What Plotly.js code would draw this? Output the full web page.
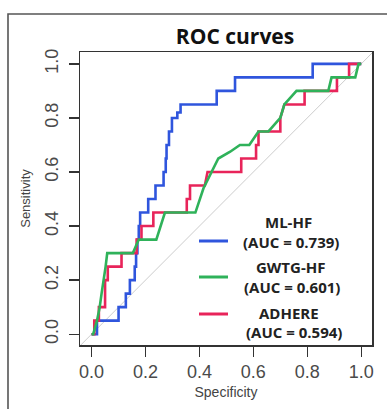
<!DOCTYPE html>
<html>
<head>
<meta charset="utf-8">
<script src="https://cdn.plot.ly/plotly-3.0.1.min.js"></script>
<style>html,body{margin:0;padding:0;background:#fff;overflow:hidden;}#chart{width:387px;height:409px;}</style>
</head>
<body>
<div id="chart"></div>
<script>
// ---- data (x = 1 - specificity as drawn, y = sensitivity) ----
const mlhfX = [0,0.02,0.02,0.10,0.10,0.127,0.127,0.142,0.142,0.16,0.16,0.165,0.165,0.17,0.17,0.175,0.175,0.18,0.18,0.21,0.21,0.237,0.237,0.267,0.267,0.275,0.275,0.278,0.278,0.287,0.287,0.298,0.298,0.318,0.318,0.33,0.33,0.464,0.464,0.532,0.532,0.82,0.82,1.0];
const mlhfY = [0,0,0.05,0.05,0.10,0.10,0.15,0.15,0.20,0.20,0.25,0.25,0.30,0.30,0.35,0.35,0.40,0.40,0.45,0.45,0.50,0.50,0.55,0.55,0.60,0.60,0.65,0.65,0.70,0.70,0.75,0.75,0.80,0.80,0.82,0.82,0.85,0.85,0.90,0.90,0.95,0.95,1.0,1.0];

const gwtgX = [0,0.006,0.02,0.03,0.037,0.045,0.052,0.058,0.153,0.175,0.24,0.272,0.385,0.415,0.446,0.47,0.514,0.55,0.585,0.605,0.619,0.656,0.70,0.715,0.76,0.878,0.89,0.978,0.99,1.0];
const gwtgY = [0,0,0.05,0.10,0.15,0.20,0.25,0.30,0.30,0.35,0.35,0.45,0.45,0.54,0.60,0.65,0.675,0.70,0.70,0.73,0.75,0.75,0.80,0.85,0.90,0.90,0.95,0.95,1.0,1.0];

const adhereX = [0,0.01,0.01,0.027,0.027,0.05,0.05,0.06,0.06,0.111,0.111,0.167,0.167,0.185,0.185,0.229,0.229,0.353,0.353,0.365,0.365,0.42,0.43,0.555,0.555,0.61,0.61,0.619,0.619,0.70,0.70,0.715,0.79,0.79,0.91,0.91,0.955,0.955,1.0];
const adhereY = [0,0,0.05,0.05,0.10,0.10,0.20,0.20,0.25,0.25,0.30,0.30,0.35,0.35,0.40,0.40,0.45,0.45,0.50,0.50,0.55,0.55,0.60,0.60,0.65,0.65,0.70,0.70,0.75,0.75,0.80,0.85,0.85,0.90,0.90,0.95,0.95,1.0,1.0];

const diagonal = [-0.1, 1.1];
const tickVals = [0, 0.2, 0.4, 0.6, 0.8, 1.0];
const tickText = ["0.0", "0.2", "0.4", "0.6", "0.8", "1.0"];
const seriesNames = ["ML-HF", "GWTG-HF", "ADHERE"];
const aucLabels = ["(AUC = 0.739)", "(AUC = 0.601)", "(AUC = 0.594)"];
const colors = ["#2f55dd", "#2fb25a", "#e8245a"];

// ---- geometry helpers (pixel -> paper) ----
const W = 387, H = 409;
const L = 80, R = 372, T = 52, B = 345;
const px = x => (x - L) / (R - L);
const py = y => (B - y) / (B - T);

const traces = [
  {x: diagonal, y: diagonal, mode: 'lines', line: {color: '#cccccc', width: 1}, hoverinfo: 'skip', showlegend: false},
  {x: mlhfX, y: mlhfY, mode: 'lines', name: seriesNames[0], line: {color: colors[0], width: 2.6}, showlegend: false},
  {x: adhereX, y: adhereY, mode: 'lines', name: seriesNames[2], line: {color: colors[2], width: 2.6}, showlegend: false},
  {x: gwtgX, y: gwtgY, mode: 'lines', name: seriesNames[1], line: {color: colors[1], width: 2.6}, showlegend: false}
];

const legendFont = {family: 'Open Sans, sans-serif', size: 15, color: '#222', weight: 'bold'};
const legendRows = [
  {name: [288, 222], auc: [291, 242], line: 241},
  {name: [290, 267], auc: [292, 287], line: 277},
  {name: [289, 313], auc: [294, 332], line: 314}
];
const annotations = [];
const shapes = [];
legendRows.forEach((r, i) => {
  annotations.push({xref: 'paper', yref: 'paper', x: px(r.name[0]), y: py(r.name[1]), text: '<b>' + seriesNames[i] + '</b>', showarrow: false, xanchor: 'center', yanchor: 'middle', font: legendFont});
  annotations.push({xref: 'paper', yref: 'paper', x: px(r.auc[0]), y: py(r.auc[1]), text: '<b>' + aucLabels[i] + '</b>', showarrow: false, xanchor: 'center', yanchor: 'middle', font: legendFont});
  shapes.push({type: 'line', xref: 'paper', yref: 'paper', x0: px(199), x1: px(228), y0: py(r.line), y1: py(r.line), line: {color: colors[i], width: 3}});
});
// outer frame: only left and top edges are inside the picture
shapes.push({type: 'path', xref: 'paper', yref: 'paper',
  path: 'M ' + px(8) + ' ' + py(420) + ' L ' + px(8) + ' ' + py(14) + ' L ' + px(395) + ' ' + py(14),
  line: {color: '#555', width: 1.6}, layer: 'below'});

const axisCommon = {
  showgrid: false, zeroline: false, showline: true, mirror: true, linecolor: '#333', linewidth: 1.5,
  ticks: 'outside', ticklen: 10, tickwidth: 1.3, tickcolor: '#333',
  tickvals: tickVals, ticktext: tickText,
  tickfont: {family: 'Liberation Sans, Arial, sans-serif', size: 18, color: '#4a4a4a'}
};

const layout = {
  width: W, height: H,
  margin: {l: L, r: W - R, t: T, b: H - B, pad: 0},
  paper_bgcolor: '#fff', plot_bgcolor: '#fff',
  title: {text: '<b>ROC curves</b>', xref: 'container', yref: 'container', x: 235 / W, xanchor: 'center', y: 1 - 37 / H, yanchor: 'middle', font: {family: 'Open Sans, sans-serif', size: 21, color: '#111'}},
  xaxis: Object.assign({}, axisCommon, {range: [-0.043, 1.04], ticklabelstandoff: 0,
    title: {text: 'Specificity', standoff: 6, font: {family: 'Liberation Sans, Arial, sans-serif', size: 14, color: '#444'}}}),
  yaxis: Object.assign({}, axisCommon, {range: [-0.04, 1.044], tickangle: -90, ticklabelstandoff: 3,
    title: {text: 'Sensitivity', standoff: 8, font: {family: 'Liberation Sans, Arial, sans-serif', size: 13, color: '#444'}}}),
  annotations: annotations,
  shapes: shapes
};

Plotly.newPlot('chart', traces, layout, {displayModeBar: false, staticPlot: true});
</script>
</body>
</html>
